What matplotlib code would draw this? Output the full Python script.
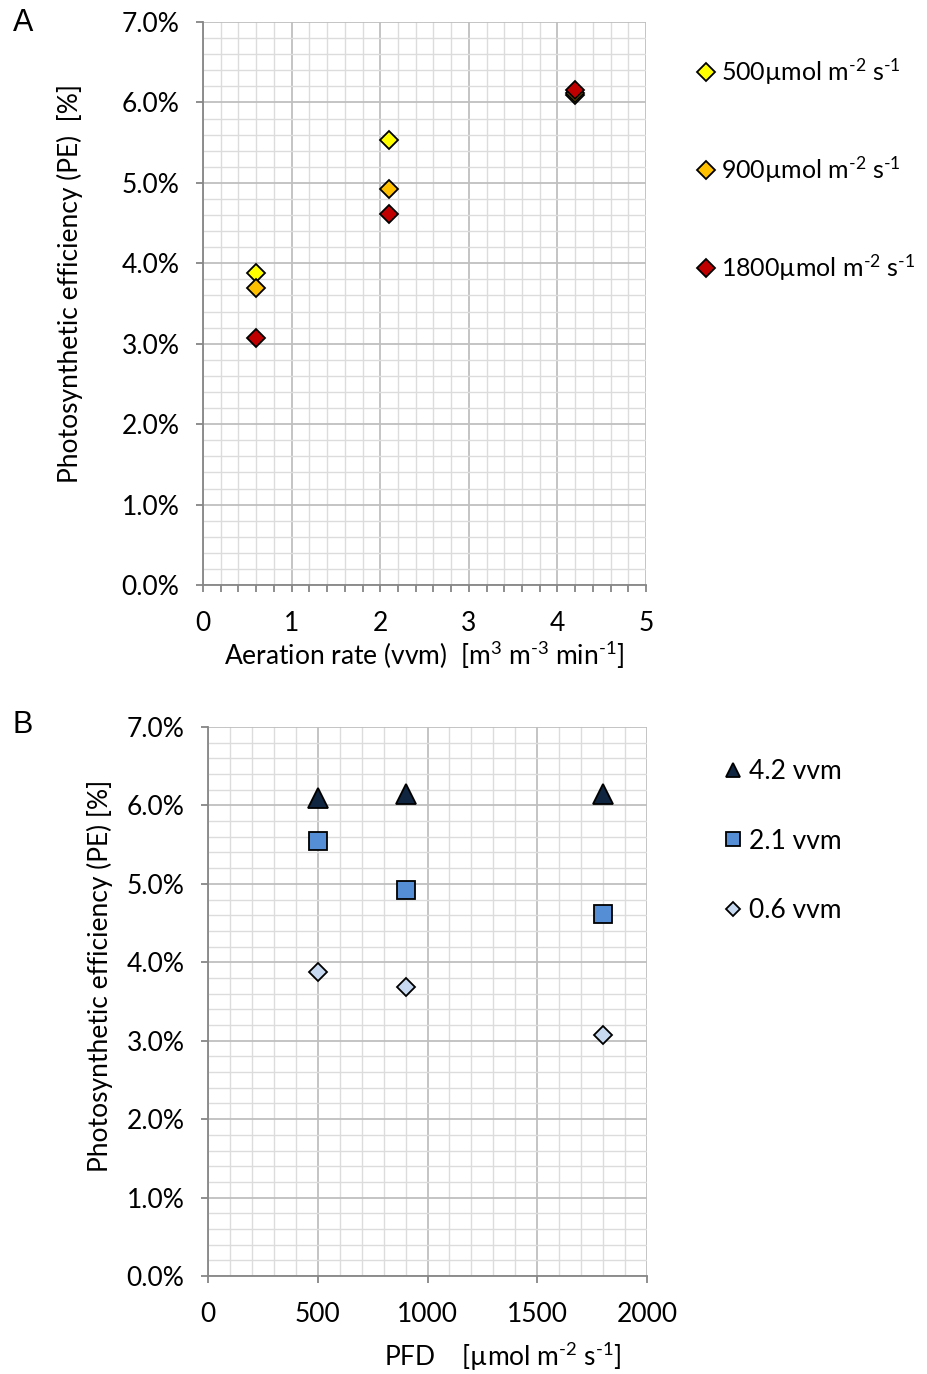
import numpy as np
import matplotlib
matplotlib.use('Agg')
import matplotlib.pyplot as plt
from matplotlib.ticker import MultipleLocator, FuncFormatter

# Fonts (Lato is close to Calibri)
plt.rcParams['font.family'] = ['Lato', 'DejaVu Sans']
plt.rcParams['mathtext.fontset'] = 'custom'
plt.rcParams['mathtext.rm'] = 'Lato'
plt.rcParams['mathtext.it'] = 'Lato:italic'
plt.rcParams['mathtext.default'] = 'rm'

# Panel A data: PE [%] vs aeration rate [vvm]
aeration = [0.6, 2.1, 4.2]
pe_500 = [3.88, 5.53, 6.09]
pe_900 = [3.69, 4.92, 6.12]
pe_1800 = [3.07, 4.61, 6.15]
labels_a = [r'500µmol m$^{\text{-2}}$ s$^{\text{-1}}$',
            r'900µmol m$^{\text{-2}}$ s$^{\text{-1}}$',
            r'1800µmol m$^{\text{-2}}$ s$^{\text{-1}}$']

# Panel B data: PE [%] vs PFD
pfd = [500, 900, 1800]
pe_42 = [6.10, 6.15, 6.15]
pe_21 = [5.54, 4.92, 4.61]
pe_06 = [3.88, 3.69, 3.07]
labels_b = ['4.2 vvm', '2.1 vvm', '0.6 vvm']

FS = 19
GRID_MAJ = '#BFBFBF'
GRID_MIN = '#DCDCDC'
AX_COL = '#868686'


def style_axes(ax, xmaj, xmin, minor_xticks):
    ax.set_ylim(0, 7)
    ax.yaxis.set_major_locator(MultipleLocator(1))
    ax.yaxis.set_minor_locator(MultipleLocator(0.2))
    ax.xaxis.set_major_locator(MultipleLocator(xmaj))
    ax.xaxis.set_minor_locator(MultipleLocator(xmin))
    ax.yaxis.set_major_formatter(FuncFormatter(lambda v, p: '%.1f%%' % v))
    ax.grid(which='minor', color=GRID_MIN, linewidth=1.0)
    ax.grid(which='major', color=GRID_MAJ, linewidth=1.3)
    ax.set_axisbelow(True)
    for s in ['top', 'right']:
        ax.spines[s].set_visible(False)
    for s in ['left', 'bottom']:
        ax.spines[s].set_color(AX_COL)
        ax.spines[s].set_linewidth(1.3)
    ax.tick_params(which='major', direction='out', length=5, width=1.3,
                   color=AX_COL, labelsize=FS, labelcolor='black')
    ax.tick_params(axis='y', which='minor', length=0)
    if minor_xticks:
        ax.tick_params(axis='x', which='minor', direction='out', length=5,
                       width=1.3, color=AX_COL)
    else:
        ax.tick_params(axis='x', which='minor', length=0)
    ax.tick_params(axis='x', pad=14)
    ax.tick_params(axis='y', pad=12)


fig = plt.figure(figsize=(9.27, 13.74), dpi=100)

# ---- Panel A ----
axA = fig.add_axes([0.219, 0.5742, 0.478, 0.4098])
hA = []
for vals, col, lab in zip([pe_500, pe_900, pe_1800],
                          ['#FFFF00', '#FFC000', '#C00000'], labels_a):
    h, = axA.plot(aeration, vals, linestyle='none', marker='D', markersize=9,
                  markerfacecolor=col, markeredgecolor='black',
                  markeredgewidth=1.3, label=lab, clip_on=False, zorder=3)
    hA.append(h)
axA.set_xlim(0, 5)
style_axes(axA, 1, 0.2, True)
axA.set_xlabel(r'Aeration rate (vvm)  [m$^3$ m$^{\text{-3}}$ min$^{\text{-1}}$]',
               fontsize=FS)
axA.xaxis.set_label_coords(0.5, -0.124)
axA.xaxis.label.set_va('center')
axA.set_ylabel('Photosynthetic efficiency (PE)  [%]', fontsize=FS)
axA.yaxis.set_label_coords(-0.271, 0.535)
fig.legend(handles=hA, labels=labels_a, loc='center left',
           bbox_to_anchor=(0.754, 0.8763), frameon=False, fontsize=18,
           handlelength=0.6, handletextpad=0.3, labelspacing=2.7,
           borderpad=0, borderaxespad=0)
fig.text(0.0248, 0.983, 'A', fontsize=22, va='center', ha='center',
         family=['Liberation Sans', 'DejaVu Sans'])

# ---- Panel B ----
axB = fig.add_axes([0.2244, 0.0713, 0.4736, 0.3996])
hB = []
for vals, mk, ms, col, lab in zip([pe_42, pe_21, pe_06], ['^', 's', 'D'],
                                  [14, 13, 9.5],
                                  ['#10253F', '#558ED5', '#C6D9F1'], labels_b):
    h, = axB.plot(pfd, vals, linestyle='none', marker=mk, markersize=ms,
                  markerfacecolor=col, markeredgecolor='black',
                  markeredgewidth=1.3, label=lab, clip_on=False, zorder=3)
    hB.append(h)
axB.set_xlim(0, 2000)
style_axes(axB, 500, 100, False)
axB.set_xlabel(r'PFD    [µmol m$^{\text{-2}}$ s$^{\text{-1}}$]', fontsize=FS)
axB.xaxis.set_label_coords(0.67, -0.1475)
axB.xaxis.label.set_va('center')
axB.set_ylabel('Photosynthetic efficiency (PE) [%]', fontsize=FS)
axB.yaxis.set_label_coords(-0.216, 0.546)
fig.legend(handles=hB, labels=labels_b, loc='center left',
           bbox_to_anchor=(0.782, 0.3879), frameon=False, fontsize=FS,
           handlelength=0.6, handletextpad=0.3, labelspacing=1.68,
           borderpad=0, borderaxespad=0, markerscale=0.75)
fig.text(0.0248, 0.4727, 'B', fontsize=22, va='center', ha='center',
         family=['Liberation Sans', 'DejaVu Sans'])

fig.savefig('out.png', dpi=100)
